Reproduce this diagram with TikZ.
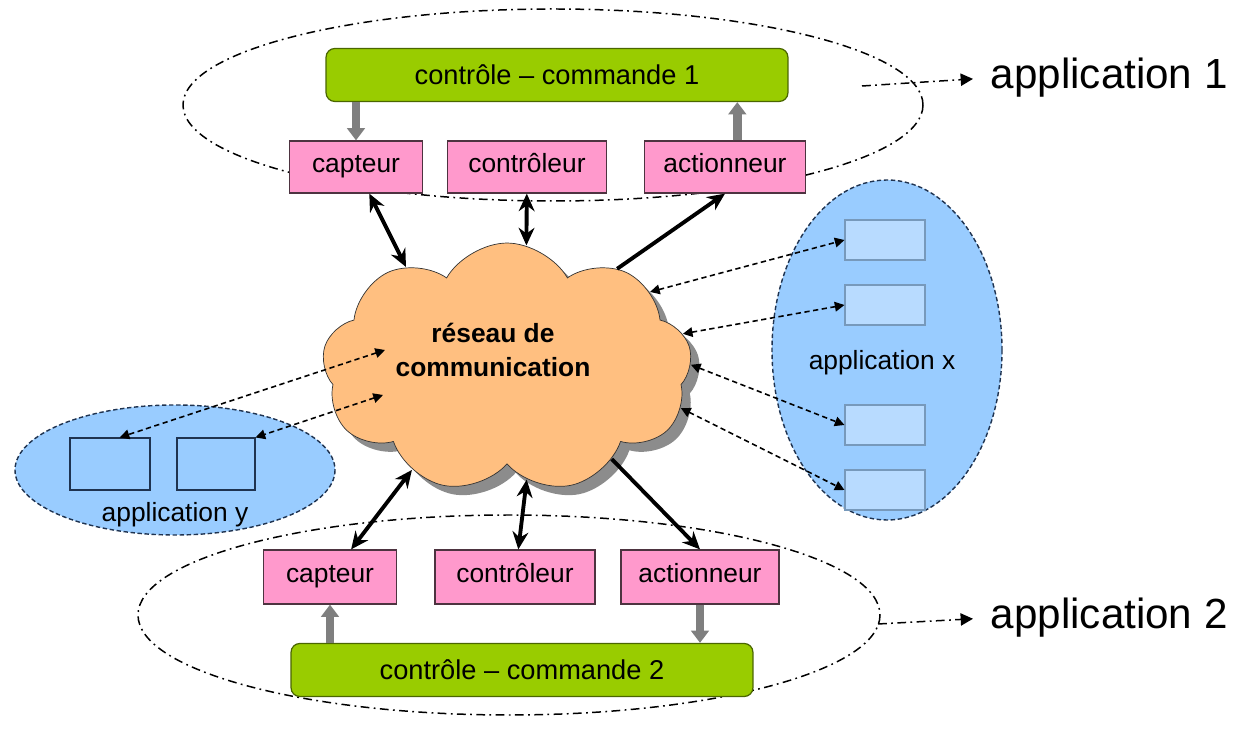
\documentclass[tikz,border=0pt]{standalone}
\usepackage{fontspec}
\setmainfont{Liberation Sans}
\usetikzlibrary{arrows.meta, shapes.symbols, shadows, calc}
\definecolor{pinkbox}{HTML}{FF99CC}
\definecolor{pinkline}{HTML}{4D3340}
\definecolor{greenbox}{HTML}{99CC00}
\definecolor{greenline}{HTML}{4A6600}
\definecolor{cloudorange}{HTML}{FFBF80}
\definecolor{zoneblue}{HTML}{99CCFF}
\definecolor{zoneline}{HTML}{1F3350}
\definecolor{slotblue}{HTML}{B8DBFF}
\definecolor{slotline}{HTML}{7799BB}
\definecolor{ctrlgray}{HTML}{7F7F7F}

\begin{document}
\begin{tikzpicture}[x=0.02cm, y=-0.02cm,
    part/.style={draw=pinkline, fill=pinkbox, line width=0.7pt,
        minimum height=1.04cm, inner sep=0pt, text height=1.7ex, text depth=0.45ex,
        font=\fontsize{15}{18}\selectfont},
    cmd/.style={draw=greenline, fill=greenbox, line width=0.7pt,
        rounded corners=5pt, minimum width=9.24cm, minimum height=1.06cm,
        font=\fontsize{15.5}{18}\selectfont},
    appzone/.style={draw=zoneline, fill=zoneblue, line width=0.8pt,
        dash pattern=on 2.5pt off 1.5pt},
    slot/.style={draw=slotline, fill=slotblue, line width=0.6pt,
        minimum width=1.6cm, minimum height=0.8cm},
    link/.style={line width=2.2pt, >={Stealth[length=10pt,width=9pt]}},
    msg/.style={line width=0.9pt, dash pattern=on 3pt off 2pt,
        >={Triangle[length=5.5pt,width=5.5pt]}, <->},
    ctrl/.style={line width=5pt, draw=ctrlgray, -{Triangle[length=7pt,width=10pt]}},
    dashdot/.style={line width=0.85pt, dash pattern=on 5pt off 2.5pt on 1pt off 2.5pt},
    bigtext/.style={font=\fontsize{24}{28}\selectfont, inner sep=2pt},
    midtext/.style={font=\fontsize{15}{18}\selectfont}]

    \useasboundingbox (0,0) rectangle (1234,732);

    \draw[dashdot] (553,105) ellipse [x radius=370, y radius=96];
    \draw[dashdot] (509,615) ellipse [x radius=371, y radius=100];

    \draw[appzone] (887,350) ellipse [x radius=115, y radius=170];
    \draw[appzone] (175,470) ellipse [x radius=160, y radius=65];

    \node[cloud, cloud puffs=9, cloud puff arc=120, cloud ignores aspect,
        minimum width=7.4cm, minimum height=5cm, draw=black!80, fill=cloudorange,
        drop shadow={shadow xshift=5pt, shadow yshift=-5pt, fill=gray!90, opacity=1}]
        (net) at (507,368) {};
    \node[align=center, font=\bfseries\fontsize{15}{19}\selectfont]
        (nettext) at (493,350) {réseau de\\communication};

    \node[cmd] (cmd1) at (557,75) {contrôle – commande 1};
    \node[part, minimum width=2.66cm] (cap1) at (356,167) {capteur};
    \node[part, minimum width=3.18cm] (ctl1) at (527,167) {contrôleur};
    \node[part, minimum width=3.22cm] (act1) at (725,167) {actionneur};

    \node[part, minimum width=2.66cm, minimum height=1.08cm] (cap2) at (330,577) {capteur};
    \node[part, minimum width=3.2cm, minimum height=1.08cm] (ctl2) at (515,577) {contrôleur};
    \node[part, minimum width=3.16cm, minimum height=1.08cm] (act2) at (700,577) {actionneur};
    \node[cmd] (cmd2) at (522,670) {contrôle – commande 2};

    \node[slot] (bx1) at (885,240) {};
    \node[slot] (bx2) at (885,305) {};
    \node[slot] (bx3) at (885,425) {};
    \node[slot] (bx4) at (885,490) {};
    \node[midtext] (appx) at (882,363) {application x};

    \node[slot, draw=zoneline, fill=zoneblue, minimum height=1.04cm] (by1) at (110,464) {};
    \node[slot, draw=zoneline, fill=zoneblue, minimum height=1.04cm,
        minimum width=1.56cm] (by2) at (216,464) {};
    \node[midtext] (appy) at (175,515) {application y};

    \node[bigtext, anchor=west] (app1) at (987,78) {application 1};
    \node[bigtext, anchor=west] (app2) at (987,618) {application 2};

    \coordinate (e1) at (862,86);
    \coordinate (e2) at (878,624);
    \coordinate (ny1) at (385,350);
    \coordinate (ny2) at (383,395);

    \draw[ctrl] (cmd1.south -| cap1.north) -- (cap1.north);
    \draw[ctrl] ([xshift=7pt]act1.north) -- ([xshift=7pt]act1.north |- cmd1.south);
    \draw[ctrl] (cmd2.north -| cap2.south) -- (cap2.south);
    \draw[ctrl] (act2.south) -- (act2.south |- cmd2.north);

    \draw[link, <->] (cap1) -- (net.135);
    \draw[link, <->] (ctl1) -- (net.81);
    \draw[link, ->] (net.42) -- (act1.south);
    \draw[link, <->] (cap2) -- (net.-133);
    \draw[link, <->] (ctl2) -- (net.-80);
    \draw[link, ->] (net.-41) -- (act2.north);

    \draw[msg] (net.28) -- (bx1.west);
    \draw[msg] (net.11) -- (bx2.west);
    \draw[msg] (net.1) -- (bx3.west);
    \draw[msg] (net.-13) -- (bx4.west);
    \draw[msg] (ny1) -- (by1.70);
    \draw[msg] (ny2) -- (by2.north east);

    \draw[dashdot, shorten >=8pt, -{Triangle[length=7pt,width=7pt]}] (e1) -- (app1.west);
    \draw[dashdot, shorten >=8pt, -{Triangle[length=7pt,width=7pt]}] (e2) -- (app2.west);
\end{tikzpicture}
\end{document}
